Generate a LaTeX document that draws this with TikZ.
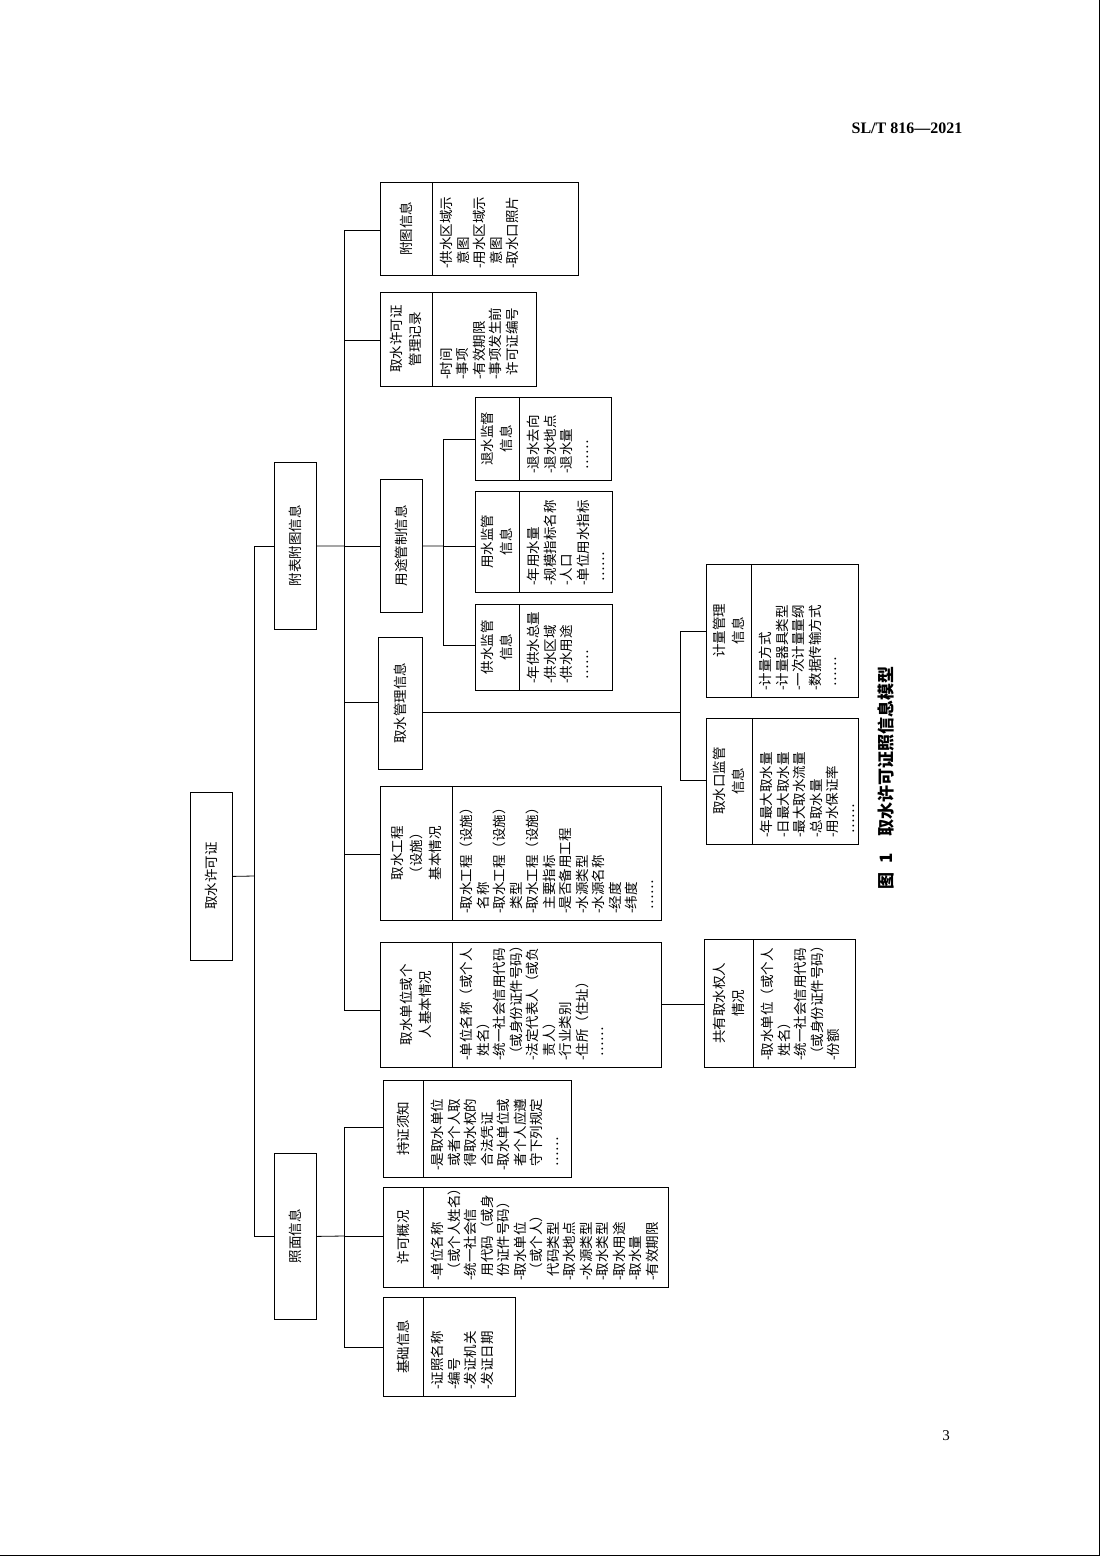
\documentclass[tikz,border=0pt]{standalone}
\usepackage{fontspec}
\setmainfont{Noto Sans CJK SC}
\newfontfamily\latinserif{Liberation Serif}
\tikzset{
  boxfr/.style={draw, thick, inner sep=0pt},
  ttl/.style={rotate=90, align=center, font=\fontsize{13.5}{19}\selectfont},
  lst/.style={rotate=90, align=left, inner sep=0pt, anchor=north west,
    font=\fontsize{13.5}{16.5}\selectfont},
  link/.style={draw, thick}
}
\newcommand\ind{\hphantom{-}}
% name, x1, y1, x2, y2, divider, title, items
\newcommand\infobox[8]{%
  \node[boxfr, anchor=north west, minimum width={(#4-#2)*1pt},
    minimum height={(#5-#3)*1pt}] (#1) at (#2,#3) {};
  \draw[thick] (#6,#3) -- (#6,#5);
  \node[ttl] (#1-t) at ({(#2+#6)/2},{(#3+#5)/2}) {#7};
  \node[lst] (#1-l) at ({#6+8},{#5-6}) {#8};}
% name, x1, y1, x2, y2, title
\newcommand\plainbox[6]{%
  \node[boxfr, anchor=north west, minimum width={(#4-#2)*1pt},
    minimum height={(#5-#3)*1pt}] (#1) at (#2,#3) {};
  \node[ttl] (#1-t) at ({(#2+#4)/2},{(#3+#5)/2}) {#6};}
\begin{document}
\begin{tikzpicture}[x=1pt, y=-1pt]
  \useasboundingbox (0,0) rectangle (1102,1559);
  \draw[thick] (0,1555) -- (1099,1555) -- (1099,0);
  \node (hdr) at (907,128) {\latinserif\bfseries\fontsize{16}{18}\selectfont SL/T 816—2021};
  \node (pg) at (946,1436) {\latinserif\fontsize{15}{18}\selectfont 3};

  % level 0 and 1
  \plainbox{root}{190}{792}{232}{960}{取水许可证}
  \plainbox{fb}{274}{462}{316}{629}{附表附图信息}
  \plainbox{zm}{274}{1153}{316}{1319}{照面信息}

  % level 2 under fb
  \infobox{ft}{380}{182}{578}{275}{432}{附图信息}{-供水区域示\\\ind 意图\\-用水区域示\\\ind 意图\\-取水口照片}
  \infobox{jl}{380}{292}{536}{386}{432}{取水许可证\\管理记录}{-时间\\-事项\\-有效期限\\-事项发生前\\\ind 许可证编号}
  \plainbox{yt}{380}{479}{422}{612}{用途管制信息}
  \plainbox{gl}{378}{637}{422}{769}{取水管理信息}
  \infobox{gc}{380}{786}{661}{920}{452}{取水工程\\（设施）\\基本情况}{-取水工程（设施）\\\ind 名称\\-取水工程（设施）\\\ind 类型\\-取水工程（设施）\\\ind 主要指标\\-是否备用工程\\-水源类型\\-水源名称\\-经度\\-纬度\\\ind ……}
  \infobox{dw}{380}{942}{661}{1067}{452}{取水单位或个\\人基本情况}{-单位名称（或个人\\\ind 姓名）\\-统一社会信用代码\\（或身份证件号码）\\-法定代表人（或负\\\ind 责人）\\-行业类别\\-住所（住址）\\\ind ……}

  % level 2 under zm
  \infobox{xz}{383}{1080}{571}{1177}{423}{持证须知}{-是取水单位\\\ind 或者个人取\\\ind 得取水权的\\\ind 合法凭证\\-取水单位或\\\ind 者个人应遵\\\ind 守下列规定\\\ind ……}
  \infobox{gk}{383}{1187}{668}{1287}{423}{许可概况}{-单位名称\\\ind （或个人姓名）\\-统一社会信\\\ind 用代码（或身\\\ind 份证件号码）\\-取水单位\\\ind （或个人）\\\ind 代码类型\\-取水地点\\-水源类型\\-取水类型\\-取水用途\\-取水量\\-有效期限}
  \infobox{jc}{383}{1297}{515}{1396}{423}{基础信息}{-证照名称\\-编号\\-发证机关\\-发证日期}

  % level 3
  \infobox{ts}{475}{397}{611}{480}{519}{退水监督\\信息}{-退水去向\\-退水地点\\-退水量\\\ind ……}
  \infobox{ys}{475}{491}{612}{592}{519}{用水监管\\信息}{-年用水量\\-规模指标名称\\-人口\\-单位用水指标\\\ind ……}
  \infobox{gs}{475}{604}{612}{690}{519}{供水监管\\信息}{-年供水总量\\-供水区域\\-供水用途\\\ind ……}
  \infobox{jg}{706}{564}{858}{697}{751}{计量管理\\信息}{-计量方式\\-计量器具类型\\-一次计量量纲\\-数据传输方式\\\ind ……}
  \infobox{qk}{706}{718}{858}{844}{752}{取水口监管\\信息}{-年最大取水量\\-日最大取水量\\-最大取水流量\\-总取水量\\-用水保证率\\\ind ……}
  \infobox{gy}{704}{939}{855}{1067}{753}{共有取水权人\\情况}{-取水单位（或个人\\\ind 姓名）\\-统一社会信用代码\\（或身份证件号码）\\-份额}

  % connectors
  \coordinate (t0) at (254,876);
  \draw[link] (root.east) -- (t0);
  \draw[link] (t0) |- (fb.west);
  \draw[link] (t0) |- (zm.west);
  \coordinate (t1) at (344,546);
  \draw[link] (fb.east) -- (t1);
  \foreach \n/\yy in {ft/230, jl/340, yt/546, gl/702, gc/854, dw/1010}
    \draw[link] (t1) -- (344,\yy) -- (\n.west |- 0,\yy);
  \coordinate (t2) at (344,1236);
  \draw[link] (zm.east) -- (t2);
  \foreach \n/\yy in {xz/1127, gk/1236, jc/1347}
    \draw[link] (t2) -- (344,\yy) -- (\n.west |- 0,\yy);
  \coordinate (t3) at (443,546);
  \draw[link] (yt.east) -- (t3);
  \foreach \n/\yy in {ts/439, ys/546, gs/645}
    \draw[link] (t3) -- (443,\yy) -- (\n.west |- 0,\yy);
  \coordinate (t4) at (680,712);
  \draw[link] (gl.east |- t4) -- (t4);
  \foreach \n/\yy in {jg/631, qk/780}
    \draw[link] (t4) -- (680,\yy) -- (\n.west |- 0,\yy);
  \draw[link] (dw.east |- 0,1004) -- (gy.west |- 0,1004);

  % caption
  \node[rotate=90, font=\bfseries\fontsize{17}{20}\selectfont] (cap) at (886,778) {图\enspace 1\quad 取水许可证照信息模型};
\end{tikzpicture}
\end{document}
